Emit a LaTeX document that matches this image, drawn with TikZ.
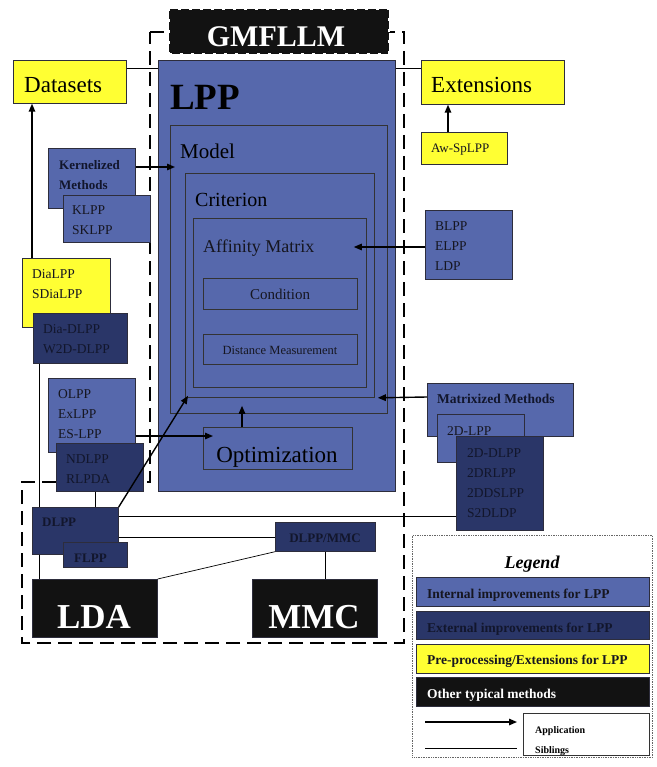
\documentclass[tikz,border=0pt]{standalone}
\usepackage{fontspec}
\setmainfont{Liberation Serif}
\usetikzlibrary{arrows.meta,calc}
\definecolor{lblue}{RGB}{86,104,172}
\definecolor{dblue}{RGB}{42,54,104}
\definecolor{ylw}{RGB}{255,255,51}
\definecolor{txtc}{RGB}{22,22,32}
\definecolor{dtxt}{RGB}{18,22,44}
\definecolor{edgec}{RGB}{45,45,60}
\tikzset{
  bx/.style={draw=edgec, line width=0.7pt, inner sep=0pt, anchor=north west},
  lb/.style={bx, fill=lblue},
  db/.style={bx, fill=dblue},
  yb/.style={bx, fill=ylw},
  kb/.style={bx, fill=black!93},
  fr/.style={bx, draw=black!80, line width=0.8pt},
  sm/.style={font=\fontsize{13.5}{20}\selectfont, text=txtc, anchor=west, inner sep=0pt, align=left},
  smd/.style={sm, text=dtxt},
  smb/.style={font=\bfseries\fontsize{13}{20}\selectfont, text=dtxt, anchor=base west, inner sep=0pt},
  lg/.style={font=\bfseries\fontsize{13.5}{16}\selectfont, text=txtc, anchor=base west, inner sep=0pt},
  app/.style={-{Triangle[length=8pt,width=6.5pt]}, line width=1.4pt, black},
  sib/.style={line width=0.7pt, black},
  frame/.style={line width=2pt, black, dash pattern=on 14pt off 7pt},
}
\begin{document}
\begin{tikzpicture}[x=1pt,y=-1pt]
\useasboundingbox[fill=white] (0,0) rectangle (656,767);

% outer dashed frame
\draw[frame] (150,32) -- (404,32) -- (404,643) -- (22,643) -- (22,482) -- (150,482) -- cycle;

% GMFLLM
\node[kb, draw=white, dash pattern=on 3pt off 8pt, line width=1.6pt, minimum width=220, minimum height=45] (gm) at (168,8) {};
\node[font=\bfseries\fontsize{30}{30}\selectfont, text=white, anchor=base, inner sep=0pt] (t-gm) at (276,47) {GMFLLM};

% LPP block
\node[lb, minimum width=237, minimum height=431] (lpp) at (158,60) {};
\node[font=\bfseries\fontsize{37}{37}\selectfont, text=black, anchor=base west, inner sep=0pt] (t-lpp) at (170,110) {LPP};
\node[fr, minimum width=217, minimum height=288] (model) at (170,125) {};
\node[font=\fontsize{21}{21}\selectfont, text=black, anchor=base west, inner sep=0pt] (t-model) at (180,159) {Model};
\node[fr, minimum width=189, minimum height=224] (crit) at (185,173) {};
\node[font=\fontsize{20}{20}\selectfont, text=black, anchor=base west, inner sep=0pt] (t-crit) at (195,207) {Criterion};
\node[fr, minimum width=173, minimum height=169] (aff) at (193,218) {};
\node[font=\fontsize{18}{18}\selectfont, text=txtc, anchor=base west, inner sep=0pt] (t-aff) at (203,252) {Affinity Matrix};
\node[fr, minimum width=154, minimum height=31] (cond) at (203,278) {};
\node[font=\fontsize{15}{15}\selectfont, text=txtc, anchor=base, inner sep=0pt] (t-cond) at (280,299) {Condition};
\node[fr, minimum width=154, minimum height=30] (dist) at (203,334) {};
\node[font=\fontsize{12.5}{12.5}\selectfont, text=txtc, anchor=base, inner sep=0pt] (t-dist) at (280,354) {Distance Measurement};
\node[fr, minimum width=149, minimum height=42] (opt) at (203,427) {};
\node[font=\fontsize{23}{23}\selectfont, text=black, anchor=base, inner sep=0pt] (t-opt) at (277,462) {Optimization};

% Datasets / Extensions
\node[yb, minimum width=113, minimum height=43] (datasets) at (13,60) {};
\node[font=\fontsize{23}{23}\selectfont, text=black, anchor=base west, inner sep=0pt] (t-datasets) at (24,93) {Datasets};
\node[yb, minimum width=143, minimum height=44] (ext) at (421,60) {};
\node[font=\fontsize{23}{23}\selectfont, text=black, anchor=base west, inner sep=0pt] (t-ext) at (431,93) {Extensions};
\node[yb, minimum width=86, minimum height=32] (aw) at (421,132) {};
\node[font=\fontsize{13}{13}\selectfont, text=txtc, anchor=base west, inner sep=0pt] (t-aw) at (431,153) {Aw-SpLPP};

% left side boxes
\node[lb, minimum width=87, minimum height=60] (kern) at (48,148) {};
\node[sm, font=\bfseries\fontsize{13}{20}\selectfont, text=dtxt] (t-kern) at (59,175) {Kernelized\\Methods};
\node[lb, minimum width=87, minimum height=47] (klpp) at (63,195) {};
\node[sm] (t-klpp) at (72,220) {KLPP\\SKLPP};

\node[yb, minimum width=88, minimum height=69] (dia) at (22,258) {};
\node[sm] (t-dia) at (32,284) {DiaLPP\\SDiaLPP};
\node[db, minimum width=94, minimum height=50] (diad) at (33,313) {};
\node[smd] (t-diad) at (43,339) {Dia-DLPP\\W2D-DLPP};

\node[lb, minimum width=87, minimum height=74] (olpp) at (48,378) {};
\node[sm] (t-olpp) at (58,414) {OLPP\\ExLPP\\ES-LPP};
\node[db, minimum width=87, minimum height=48] (ndlpp) at (56,443) {};
\node[smd] (t-ndlpp) at (66,469) {NDLPP\\RLPDA};

\node[db, minimum width=86, minimum height=47] (dlpp) at (32,507) {};
\node[smb] (t-dlpp) at (42,526) {DLPP};
\node[db, minimum width=64, minimum height=25] (flpp) at (63,542) {};
\node[smb] (t-flpp) at (74,562) {FLPP};

\node[db, minimum width=100, minimum height=29] (dmmc) at (275,522) {};
\node[smb, anchor=base] (t-dmmc) at (325,542) {DLPP/MMC};

\node[kb, minimum width=125, minimum height=58] (lda) at (32,579) {};
\node[font=\bfseries\fontsize{35}{35}\selectfont, text=white, anchor=base, inner sep=0pt] (t-lda) at (94,628) {LDA};
\node[kb, minimum width=125, minimum height=58] (mmc) at (252,579) {};
\node[font=\bfseries\fontsize{35}{35}\selectfont, text=white, anchor=base, inner sep=0pt] (t-mmc) at (314,628) {MMC};

% right side boxes
\node[lb, minimum width=87, minimum height=69] (blpp) at (425,210) {};
\node[sm] (t-blpp) at (435,246) {BLPP\\ELPP\\LDP};

\node[lb, minimum width=146, minimum height=53] (matx) at (427,383) {};
\node[smb, font=\bfseries\fontsize{13.5}{20}\selectfont] (t-matx) at (437,403) {Matrixized Methods};
\node[lb, minimum width=87, minimum height=48] (twod) at (437,414) {};
\node[sm, anchor=base west] (t-twod) at (447,435) {2D-LPP};
\node[db, minimum width=87, minimum height=94] (twodd) at (456,436) {};
\node[smd] (t-twodd) at (467,483) {2D-DLPP\\2DRLPP\\2DDSLPP\\S2DLDP};

% sibling lines
\draw[sib] ($(datasets.north east)+(0,8)$) -- ($(lpp.north west)+(0,8)$);
\draw[sib] ($(lpp.north east)+(0,8)$) -- ($(ext.north west)+(0,8)$);
\draw[sib] ($(diad.south west)+(6,0)$) -- ($(dlpp.north west)+(7,0)$);
\draw[sib] ($(dlpp.south west)+(7,0)$) -- ($(lda.north west)+(7,0)$);
\draw[sib] ($(ndlpp.south west)+(39,0)$) -- ($(dlpp.north west)+(63,0)$);
\draw[sib] ($(dlpp.north east)+(0,9)$) -- ($(twodd.north west)+(0,80)$);
\draw[sib] ($(dlpp.north east)+(0,30)$) -- ($(dmmc.north west)+(0,15)$);
\draw[sib] (dmmc.south west) -- (lda.north east);
\draw[sib] ($(dmmc.south west)+(50,0)$) -- ($(mmc.north west)+(73,0)$);

% application arrows
\draw[app] ($(dia.north west)+(10,0)$) -- ($(datasets.south west)+(19,0)$);
\draw[app] ($(aw.north west)+(27,0)$) -- ($(ext.south west)+(27,0)$);
\draw[app] ($(kern.north east)+(0,19)$) -- ($(model.north west)+(5,42)$);
\draw[app] ($(blpp.north west)+(0,37)$) -- ($(aff.north east)+(-13,29)$);
\draw[app] ($(matx.north west)+(0,14)$) -- ($(crit.south east)+(3,0)$);
\draw[app] ($(olpp.north east)+(0,58)$) -- ($(opt.north west)+(10,9)$);
\draw[app] ($(opt.north west)+(39,0)$) -- ($(crit.south west)+(57,8)$);
\draw[app] (dlpp.north east) -- ($(crit.south west)+(3,-2)$);

% legend
\node[bx, fill=white, draw=black!60, densely dotted, line width=0.8pt, minimum width=240, minimum height=222] (legend) at (412,535) {};
\node[font=\bfseries\itshape\fontsize{18}{18}\selectfont, text=black, anchor=base, inner sep=0pt] (t-legend) at (532,568) {Legend};
\node[lb, minimum width=233, minimum height=29] (l1) at (416,577) {};
\node[lg] (t-l1) at (427,598) {Internal improvements for LPP};
\node[db, minimum width=233, minimum height=28] (l2) at (416,611) {};
\node[lg, text=dtxt] (t-l2) at (427,632) {External improvements for LPP};
\node[yb, minimum width=233, minimum height=29] (l3) at (416,644) {};
\node[lg] (t-l3) at (427,664) {Pre-processing/Extensions for LPP};
\node[kb, minimum width=233, minimum height=29] (l4) at (416,677) {};
\node[lg, text=white] (t-l4) at (427,698) {Other typical methods};
\node[bx, fill=white, draw=black!80, minimum width=126, minimum height=42] (l5) at (523,713) {};
\node[lg, font=\bfseries\fontsize{10}{12}\selectfont, text=black] (t-l5a) at (535,733) {Application};
\node[lg, font=\bfseries\fontsize{10}{12}\selectfont, text=black] (t-l5b) at (535,753) {Siblings};
\coordinate (la1) at (425,722);
\coordinate (la2) at (517,722);
\coordinate (ls1) at (425,748);
\coordinate (ls2) at (517,748);
\draw[app] (la1) -- (la2);
\draw[sib] (ls1) -- (ls2);
\end{tikzpicture}
\end{document}
